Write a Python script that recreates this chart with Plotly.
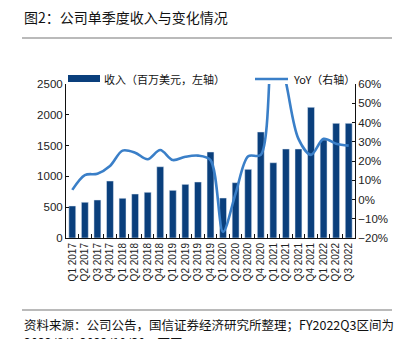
import plotly.graph_objects as go

quarters = ["Q1 2017", "Q2 2017", "Q3 2017", "Q4 2017",
            "Q1 2018", "Q2 2018", "Q3 2018", "Q4 2018",
            "Q1 2019", "Q2 2019", "Q3 2019", "Q4 2019",
            "Q1 2020", "Q2 2020", "Q3 2020", "Q4 2020",
            "Q1 2021", "Q2 2021", "Q3 2021", "Q4 2021",
            "Q1 2022", "Q2 2022", "Q3 2022"]
revenue = [520, 580, 617, 925, 645, 714, 742, 1157, 774, 871, 909, 1396,
           649, 898, 1115, 1721, 1222, 1445, 1445, 2121, 1591, 1862, 1862]
yoy = [5, 12.7, 13.4, 17.4, 25.4, 24.3, 20.9, 25.7, 20.5, 22.2, 22.8, 20.5,
       -16.8, 3.2, 22.5, 23.2, 88, 61, 31.5, 23.2, 31.5, 29, 28]

bar_color = "#0a3f7c"
line_color = "#3a7fc8"
cjk = "Noto Sans CJK SC"
latin = "Liberation Sans"

fig = go.Figure()
fig.add_trace(go.Bar(x=quarters, y=revenue, marker_color=bar_color,
                     name="收入（百万美元，左轴）", showlegend=False))
fig.add_trace(go.Scatter(x=quarters, y=yoy, yaxis="y2", mode="lines",
                         line=dict(color=line_color, width=2.6, shape="spline", smoothing=0.9),
                         name="YoY（右轴）", showlegend=False))

def px_x(p):
    return (p - 66) / 289.0

def px_y(p):
    return (238 - p) / 154.0

fig.update_layout(
    width=405, height=339,
    margin=dict(l=66, r=50, t=84, b=101),
    paper_bgcolor="white", plot_bgcolor="white",
    bargap=0.45,
    font=dict(family=latin, size=11, color="#222"),
    xaxis=dict(type="category", tickangle=-90, tickmode="linear", dtick=1,
               showline=True, linecolor="#111",
               linewidth=1, ticks="inside", ticklen=4, tickcolor="#111",
               tickson="boundaries", tickfont=dict(size=10, family=latin),
               showgrid=False),
    yaxis=dict(range=[0, 2500], dtick=500, showline=True, linecolor="#111",
               linewidth=1, ticks="inside", ticklen=3, tickcolor="#111",
               showgrid=False, zeroline=False, tickfont=dict(size=11.5, family=latin)),
    yaxis2=dict(range=[-20, 60], dtick=10, overlaying="y", side="right",
                ticksuffix="%", showline=True, linecolor="#111", linewidth=1,
                ticks="inside", ticklen=3, tickcolor="#111", showgrid=False,
                zeroline=False, tickfont=dict(size=11.5, family=latin)),
)

shapes = [
    dict(type="line", xref="paper", yref="paper", x0=px_x(22), x1=px_x(392),
         y0=px_y(38), y1=px_y(38), line=dict(color="#777", width=1.2)),
    dict(type="line", xref="paper", yref="paper", x0=px_x(22), x1=px_x(392),
         y0=px_y(310), y1=px_y(310), line=dict(color="#777", width=1.2)),
    dict(type="rect", xref="paper", yref="paper", x0=px_x(68), x1=px_x(100),
         y0=px_y(82), y1=px_y(75), fillcolor=bar_color, line=dict(width=0)),
    dict(type="line", xref="paper", yref="paper", x0=px_x(255), x1=px_x(288),
         y0=px_y(79), y1=px_y(79), line=dict(color=line_color, width=2.6)),
]
fig.update_layout(shapes=shapes)

annotations = [
    dict(text="图2：公司单季度收入与变化情况", xref="paper", yref="paper",
         x=px_x(22), y=px_y(17), xanchor="left", yanchor="middle", showarrow=False,
         font=dict(family=cjk, size=14, color="#111")),
    dict(text="收入（百万美元，左轴）", xref="paper", yref="paper",
         x=px_x(102), y=px_y(79), xanchor="left", yanchor="middle", showarrow=False,
         font=dict(family=cjk, size=11, color="#111")),
    dict(text="YoY（右轴）", xref="paper", yref="paper",
         x=px_x(291), y=px_y(79), xanchor="left", yanchor="middle", showarrow=False,
         font=dict(family=cjk, size=11, color="#111")),
    dict(text="资料来源：公司公告，国信证券经济研究所整理；FY2022Q3区间为",
         xref="paper", yref="paper", align="left",
         x=px_x(22), y=px_y(324), xanchor="left", yanchor="middle", showarrow=False,
         font=dict(family=cjk, size=12.5, color="#111")),
    dict(text="2022/8/1-2022/10/30，下同",
         xref="paper", yref="paper", align="left",
         x=px_x(22), y=px_y(342), xanchor="left", yanchor="middle", showarrow=False,
         font=dict(family=cjk, size=12.5, color="#111")),
]
fig.update_layout(annotations=annotations)

fig.write_html("out.html")
